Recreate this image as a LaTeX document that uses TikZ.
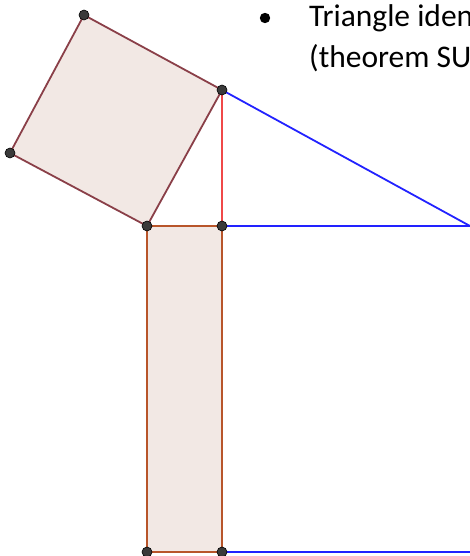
\documentclass[tikz,border=0pt]{standalone}
\usepackage{fontspec}
\setmainfont{Carlito}
\definecolor{sqfill}{HTML}{F2E8E4}
\definecolor{sqline}{HTML}{8A3F48}
\definecolor{rcline}{HTML}{B8552A}
\definecolor{vline}{HTML}{F04848}
\definecolor{bline}{HTML}{2222FF}
\definecolor{dotgray}{HTML}{3A3A3A}
\tikzset{
  pt/.style={circle,fill=dotgray,draw=black,line width=0.6pt,inner sep=0pt,minimum size=10pt},
  seg/.style={line width=1.8pt},
}
\begin{document}
\begin{tikzpicture}[x=1pt,y=-1pt]
\useasboundingbox (0,0) rectangle (470,556);
\clip (0,0) rectangle (470,556);
% points
\coordinate (S1) at (84,15);
\coordinate (A) at (222,90);
\coordinate (S2) at (10,153);
\coordinate (B) at (147,226);
\coordinate (H) at (222,226);
\coordinate (C) at (470,226);
\coordinate (R1) at (147,552);
\coordinate (R2) at (222,552);
\coordinate (E) at (470,552);
% squares
\filldraw[seg,fill=sqfill,draw=sqline] (S1)--(A)--(B)--(S2)--cycle;
\filldraw[seg,fill=sqfill,draw=rcline] (B)--(H)--(R2)--(R1)--cycle;
% triangle
\draw[seg,vline] (A)--(H);
\draw[seg,bline] (A)--(C);
\draw[seg,bline] (H)--(C);
\draw[seg,bline] (R2)--(E);
\foreach \p in {S1,A,S2,B,H,R1,R2} \node[pt] at (\p) {};
% text
\fill (265,18) circle (5.2);
\node[anchor=base west,font=\fontsize{31.5}{38}\selectfont,inner sep=0pt] (t1) at (309,27) {Triangle iden};
\node[anchor=base west,font=\fontsize{31.5}{38}\selectfont,inner sep=0pt] (t2) at (309,68) {(theorem SU};
\end{tikzpicture}
\end{document}
